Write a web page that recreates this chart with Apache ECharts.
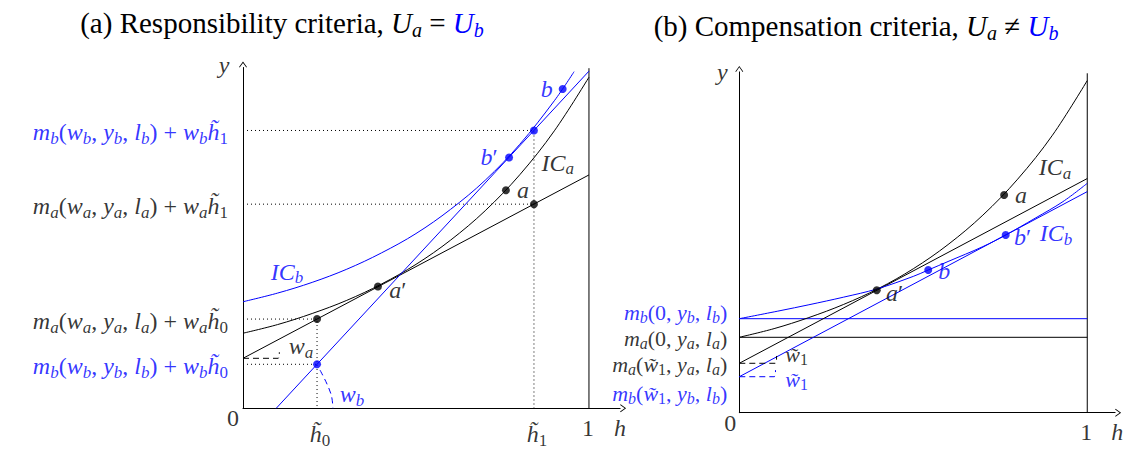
<!DOCTYPE html>
<html><head><meta charset="utf-8">
<script src="https://cdn.jsdelivr.net/npm/echarts@6/dist/echarts.min.js"></script>
<style>html,body{margin:0;padding:0;background:#fff}#c{width:1133px;height:450px}</style>
</head><body><div id="c"></div>
<script>
// ===== data: points are [h, y] =====
// Panel (a)
const icA_a = [[0,2.17],[0.1,2.42],[0.2,2.74],[0.3,3.12],[0.4,3.59],[0.5,4.16],[0.6,4.86],[0.7,5.71],[0.8,6.75],[0.9,8.02],[1.0,9.57]];
const icB_a = [[0,3.08],[0.1,3.33],[0.2,3.64],[0.3,4.02],[0.4,4.49],[0.5,5.05],[0.6,5.75],[0.7,6.59],[0.8,7.63],[0.9,8.89],[0.957,9.73]];
const budgetA_a = [[0,1.445],[1,6.745]];
const budgetB_a = [[0.096,0],[1,9.745]];
const edge_a = [[1,0],[1,9.83]];
const ptsA_a = [[0.214,2.579],[0.39,3.52],[0.76,6.30],[0.841,5.90]];
const ptsB_a = [[0.214,1.272],[0.769,7.25],[0.841,8.03],[0.924,9.23]];
const dotted_a = [
  [[0,8.03],[0.841,8.03],[0.841,0]],
  [[0,5.90],[0.841,5.90]],
  [[0,2.579],[0.214,2.579],[0.214,0]],
  [[0,1.272],[0.214,1.272]]
];
const angleA_a = [[0,1.445],[0.102,1.445],[0.105,1.50],[0.105,1.62]];
const angleB_a = [[0.2225,1.107],[0.2428,0.702],[0.2558,0.355],[0.2601,0]];
// Panel (b)
const icA_b = [[0,2.18],[0.1,2.43],[0.2,2.75],[0.3,3.13],[0.4,3.59],[0.5,4.16],[0.6,4.86],[0.7,5.71],[0.8,6.75],[0.9,8.02],[1.0,9.60]];
const icB_b = [[0,2.717],[0.117,2.948],[0.2,3.12],[0.3,3.34],[0.395,3.575],[0.5,3.94],[0.543,4.124],[0.6,4.37],[0.7,4.80],[0.7655,5.136],[0.85,5.62],[0.93,6.10],[1.0,6.63]];
const budgetA_b = [[0,1.428],[1,6.768]];
const budgetB_b = [[0,1.04],[1,6.39]];
const levelA_b = [[0,2.179],[1,2.179]];
const levelB_b = [[0,2.717],[1,2.717]];
const edge_b = [[1,0],[1,9.81]];
const ptsA_b = [[0.395,3.538],[0.761,6.292]];
const ptsB_b = [[0.543,4.124],[0.7655,5.136]];
const angleA_b = [[0,1.428],[0.104,1.428],[0.107,1.50],[0.107,1.64]];
const angleB_b = [[0,1.04],[0.101,1.04],[0.104,1.11],[0.104,1.23]];

// tick / annotation texts
const titles = ['(a) Responsibility criteria, ', '(b) Compensation criteria, '];
const yLabels_a = [
  {y:8.03, text:'m_b(w_b, y_b, l_b) + w_b~h_1', c:'u'},
  {y:5.90, text:'m_a(w_a, y_a, l_a) + w_a~h_1', c:'k'},
  {y:2.579, text:'m_a(w_a, y_a, l_a) + w_a~h_0', c:'k'},
  {y:1.272, text:'m_b(w_b, y_b, l_b) + w_b~h_0', c:'u'}
];
const yLabels_b = [
  {y:2.717, text:'m_b(0, y_b, l_b)', c:'u'},
  {y:2.179, text:'m_a(0, y_a, l_a)', c:'k'},
  {y:1.428, text:'m_a(~w_1, y_a, l_a)', c:'k'},
  {y:1.04, text:'m_b(~w_1, y_b, l_b)', c:'u'}
];

// ===== layout / style =====
const BLUE = '#0000ff';
const FONT = 'Liberation Serif';
function richSet(p, color, ms, ss, drop) {
  const o = {};
  o[p+'i'] = {fontFamily:FONT, fontStyle:'italic', fontSize:ms, color, lineHeight:20};
  o[p+'r'] = {fontFamily:FONT, fontStyle:'normal', fontSize:ms, color, lineHeight:20};
  o[p+'si'] = {fontFamily:FONT, fontStyle:'italic', fontSize:ss, color, lineHeight:8, padding:[drop*2,0,0,0]};
  o[p+'sr'] = {fontFamily:FONT, fontStyle:'normal', fontSize:ss, color, lineHeight:8, padding:[drop*2,0,0,0]};
  return o;
}
const RICH = Object.assign({}, richSet('k','#000',24,17,6), richSet('u',BLUE,24,17,6),
                                richSet('K','#000',22,16,5), richSet('U',BLUE,22,16,5));

function mathRich(src, c) {
  let out = '', cur = null, buf = '';
  function flush(){ if (cur !== null && buf) out += '{' + c + cur + '|' + buf + '}'; buf = ''; }
  function push(st, ch){ if (st !== cur) { flush(); cur = st; } buf += ch; }
  for (let i = 0; i < src.length; i++) {
    const ch = src[i];
    if (ch === '_') {
      const n = src[++i];
      if (n === '~') { push('si', src[++i] + '\u0303'); }
      else push(/[0-9]/.test(n) ? 'sr' : 'si', n);
    } else if (ch === '~') { push('i', src[++i] + '\u0303'); }
    else if (ch === "'") push('r', '\u2032');
    else if (/[A-Za-z]/.test(ch)) push('i', ch);
    else push('r', ch);
  }
  flush();
  return out;
}

const ARROW = 'path://M0,0 L5,7 L4.2,7.6 L0,1.8 L-4.2,7.6 L-5,7 Z';
function axisLine() {
  return {show:true, symbol:['none', ARROW], symbolSize:[8,6], symbolOffset:[0,3], lineStyle:{color:'#000', width:1}};
}
function xAx(gi, max) {
  return {type:'value', gridIndex:gi, min:0, max, axisLine:axisLine(), axisTick:{show:false}, axisLabel:{show:false}, splitLine:{show:false}};
}
function yAx(gi) {
  return {type:'value', gridIndex:gi, min:0, max:9.85, axisLine:axisLine(), axisTick:{show:false}, axisLabel:{show:false}, splitLine:{show:false}};
}
function line(gi, data, color, extra) {
  return Object.assign({type:'line', xAxisIndex:gi, yAxisIndex:gi, data, showSymbol:false, symbol:'none', silent:true,
    lineStyle:{color, width:1}, animation:false, clip:false, z:3}, extra || {});
}
function curve(gi, data, color) {
  return line(gi, data, color, {smooth:0.35});
}
function styled(gi, data, color, type) {
  return line(gi, data, color, {lineStyle:{color, width:1, type}});
}
function dots(gi, data, color) {
  return {type:'scatter', xAxisIndex:gi, yAxisIndex:gi, data, symbolSize:8, itemStyle:{color}, silent:true, animation:false, z:5};
}
function texts(gi, items) {
  return {type:'scatter', xAxisIndex:gi, yAxisIndex:gi, symbolSize:1, itemStyle:{color:'rgba(0,0,0,0)'}, silent:true, animation:false, clip:false, z:10,
    data: items.map(t => ({value:t.at, label:{show:true, position:'inside', offset:t.off || [0,0], align:t.align || 'center', verticalAlign:'middle',
      formatter: (() => { const s = mathRich(t.text, t.c || 'k'); return () => s; })(), rich:RICH}}))};
}

const textItems_a = [
  {at:[0,9.85], text:'y', off:[-19,-3]},
  {at:[0,0], text:'0', off:[-10,10]},
  {at:[ptsA_a[0][0],0], text:'~h_0', off:[3,26]},
  {at:[ptsA_a[3][0],0], text:'~h_1', off:[3,26]},
  {at:[1,0], text:'1', off:[-1,20]},
  {at:[1,0], text:'h', off:[31,20]},
  {at:ptsB_a[3], text:'b', c:'u', off:[-16,0]},
  {at:ptsB_a[1], text:"b'", c:'u', off:[-20,0]},
  {at:[0.910,7.09], text:'IC_a'},
  {at:ptsA_a[2], text:'a', off:[17,0]},
  {at:[0.127,3.943], text:'IC_b', c:'u'},
  {at:ptsA_a[1], text:"a'", off:[20,3]},
  {at:[0.168,1.80], text:'w_a'},
  {at:[0.315,0.40], text:'w_b', c:'u'}
].concat(yLabels_a.map(l => ({at:[0,l.y], text:l.text, c:l.c, align:'right', off:[-15,2]})));

const textItems_b = [
  {at:[0,9.85], text:'y', off:[-17,0]},
  {at:[0,0], text:'0', off:[-9,10]},
  {at:[1,0], text:'1', off:[-1,19]},
  {at:[1,0], text:'h', off:[30,19]},
  {at:[0.907,7.10], text:'IC_a'},
  {at:ptsA_b[1], text:'a', off:[17,0]},
  {at:ptsB_b[1], text:"b'", c:'u', off:[17,2]},
  {at:[0.910,5.19], text:'IC_b', c:'u'},
  {at:ptsB_b[0], text:'b', c:'u', off:[16,1]},
  {at:ptsA_b[0], text:"a'", off:[18,3]},
  {at:[0.165,1.67], text:'~w_1', c:'K'},
  {at:[0.165,0.95], text:'~w_1', c:'U'}
].concat([
  {at:[0,yLabels_b[0].y], text:yLabels_b[0].text, c:'U', align:'right', off:[-12,-6]},
  {at:[0,yLabels_b[1].y], text:yLabels_b[1].text, c:'K', align:'right', off:[-12,1]},
  {at:[0,yLabels_b[2].y], text:yLabels_b[2].text, c:'K', align:'right', off:[-12,1]},
  {at:[0,yLabels_b[3].y], text:yLabels_b[3].text, c:'U', align:'right', off:[-12,17]}
]);

const TS = 29, TSS = 20;
const titleRich = {
  i:{fontFamily:FONT, fontStyle:'italic', fontSize:TS, color:'#000', lineHeight:30},
  s:{fontFamily:FONT, fontStyle:'italic', fontSize:TSS, color:'#000', lineHeight:10, padding:[14,0,0,0]},
  r:{fontFamily:FONT, fontSize:TS, color:'#000', lineHeight:30},
  bi:{fontFamily:FONT, fontStyle:'italic', fontSize:TS, color:BLUE, lineHeight:30},
  bs:{fontFamily:FONT, fontStyle:'italic', fontSize:TSS, color:BLUE, lineHeight:10, padding:[14,0,0,0]}
};

const series = [
  // panel a
  line(0, edge_a, '#000'),
  curve(0, icA_a, '#000'),
  line(0, budgetA_a, '#000'),
  curve(0, icB_a, BLUE),
  line(0, budgetB_a, BLUE),
  ...dotted_a.map(d => styled(0, d, '#000', [1,3])),
  styled(0, angleA_a, '#000', [6,4]),
  line(0, angleB_a, BLUE, {smooth:0.35, lineStyle:{color:BLUE, width:1, type:[6,4]}}),
  dots(0, ptsA_a, '#000'),
  dots(0, ptsB_a, BLUE),
  texts(0, textItems_a),
  // panel b
  line(1, edge_b, '#000'),
  line(1, levelA_b, '#000'),
  line(1, levelB_b, BLUE),
  curve(1, icA_b, '#000'),
  line(1, budgetA_b, '#000'),
  curve(1, icB_b, BLUE),
  line(1, budgetB_b, BLUE),
  styled(1, angleA_b, '#000', [6,4]),
  styled(1, angleB_b, BLUE, [6,4]),
  dots(1, ptsA_b, '#000'),
  dots(1, ptsB_b, BLUE),
  texts(1, textItems_b)
];

const chart = echarts.init(document.getElementById('c'), null, {renderer:'svg'});
chart.setOption({
  backgroundColor:'#fff',
  animation:false,
  title:[
    {text: titles[0] + '{i|U}{s|a}{r| = }{bi|U}{bs|b}', left:277, top:3, textAlign:'center',
      textStyle:{fontFamily:FONT, fontSize:TS, fontWeight:'normal', color:'#000', lineHeight:30, rich:titleRich}},
    {text: titles[1] + '{i|U}{s|a}{r| \u2260 }{bi|U}{bs|b}', left:851, top:6, textAlign:'center',
      textStyle:{fontFamily:FONT, fontSize:TS, fontWeight:'normal', color:'#000', lineHeight:30, rich:titleRich}}
  ],
  grid:[
    {left:243, top:67.5, width:377.1, height:340.8, outerBoundsMode:'none', containLabel:false},
    {left:739.3, top:71.9, width:375.8, height:340.8, outerBoundsMode:'none', containLabel:false}
  ],
  xAxis:[xAx(0,1.09), xAx(1,1.08)],
  yAxis:[yAx(0), yAx(1)],
  series
});
</script></body></html>
